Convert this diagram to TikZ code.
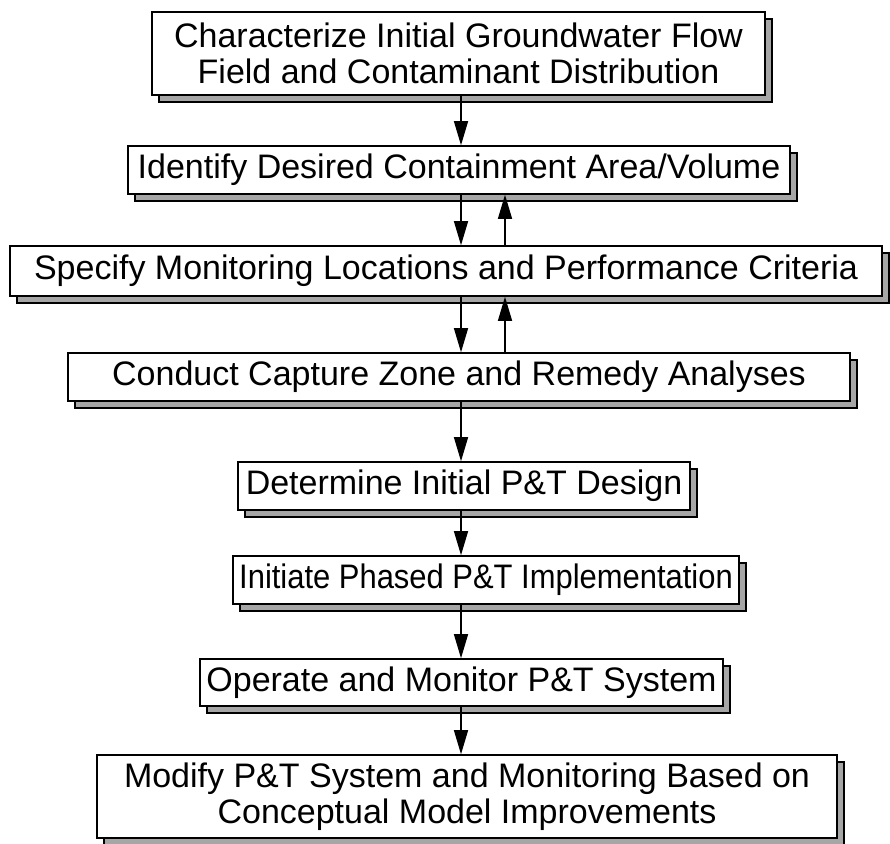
\documentclass[tikz,border=0pt]{standalone}
\usepackage{fontspec}
\setmainfont{Liberation Sans}
\usetikzlibrary{arrows.meta,shadows}

\begin{document}
\begin{tikzpicture}[x=1pt, y=-1pt,
    stepbox/.style={draw, line width=1.6pt, fill=white, inner sep=0pt, align=center,
      font=\fontsize{34}{36}\selectfont,
      drop shadow={shadow xshift=7pt, shadow yshift=-7pt, opacity=1,
        fill=black!35, draw=black, line width=1.2pt}},
    flow/.style={line width=1.4pt, -{Triangle[length=24pt, width=14pt]}}]
  \useasboundingbox (0, 0) rectangle (890, 843);
  % columns of the arrows
  \coordinate (dn) at (461, 0);
  \coordinate (up) at (505, 0);
  % steps
  \node [stepbox, minimum width=613, minimum height=83] (char) at (458.5, 53.5)
    {Characterize Initial Groundwater Flow\\Field and Contaminant Distribution};
  \node [stepbox, minimum width=662, minimum height=48] (ident) at (459, 170)
    {Identify Desired Containment Area/Volume};
  \node [stepbox, minimum width=872, minimum height=50] (spec) at (446, 271)
    {Specify Monitoring Locations and Performance Criteria};
  \node [stepbox, minimum width=782, minimum height=48] (cond) at (459, 377)
    {Conduct Capture Zone and Remedy Analyses};
  \node [stepbox, minimum width=452, minimum height=48] (det) at (464, 486)
    {Determine Initial P\&T Design};
  \node [stepbox, minimum width=506, minimum height=48] (init) at (486, 580)
    {\addfontfeature{FakeStretch=0.91}Initiate Phased P\&T Implementation};
  \node [stepbox, minimum width=523, minimum height=47] (oper) at (461.5, 682.5)
    {Operate and Monitor P\&T System};
  \node [stepbox, minimum width=740, minimum height=83] (mod) at (467, 796.5)
    {Modify P\&T System and Monitoring Based on\\Conceptual Model Improvements};
  % arrows down the chain
  \draw [flow] (char.south -| dn) -- (ident.north -| dn);
  \draw [flow] (ident.south -| dn) -- (spec.north -| dn);
  \draw [flow] (spec.north -| up) -- (ident.south -| up);
  \draw [flow] (spec.south -| dn) -- (cond.north -| dn);
  \draw [flow] (cond.north -| up) -- (spec.south -| up);
  \draw [flow] (cond.south -| dn) -- (det.north -| dn);
  \draw [flow] (det.south -| dn) -- (init.north -| dn);
  \draw [flow] (init.south -| dn) -- (oper.north -| dn);
  \draw [flow] (oper.south -| dn) -- (mod.north -| dn);
\end{tikzpicture}
\end{document}
